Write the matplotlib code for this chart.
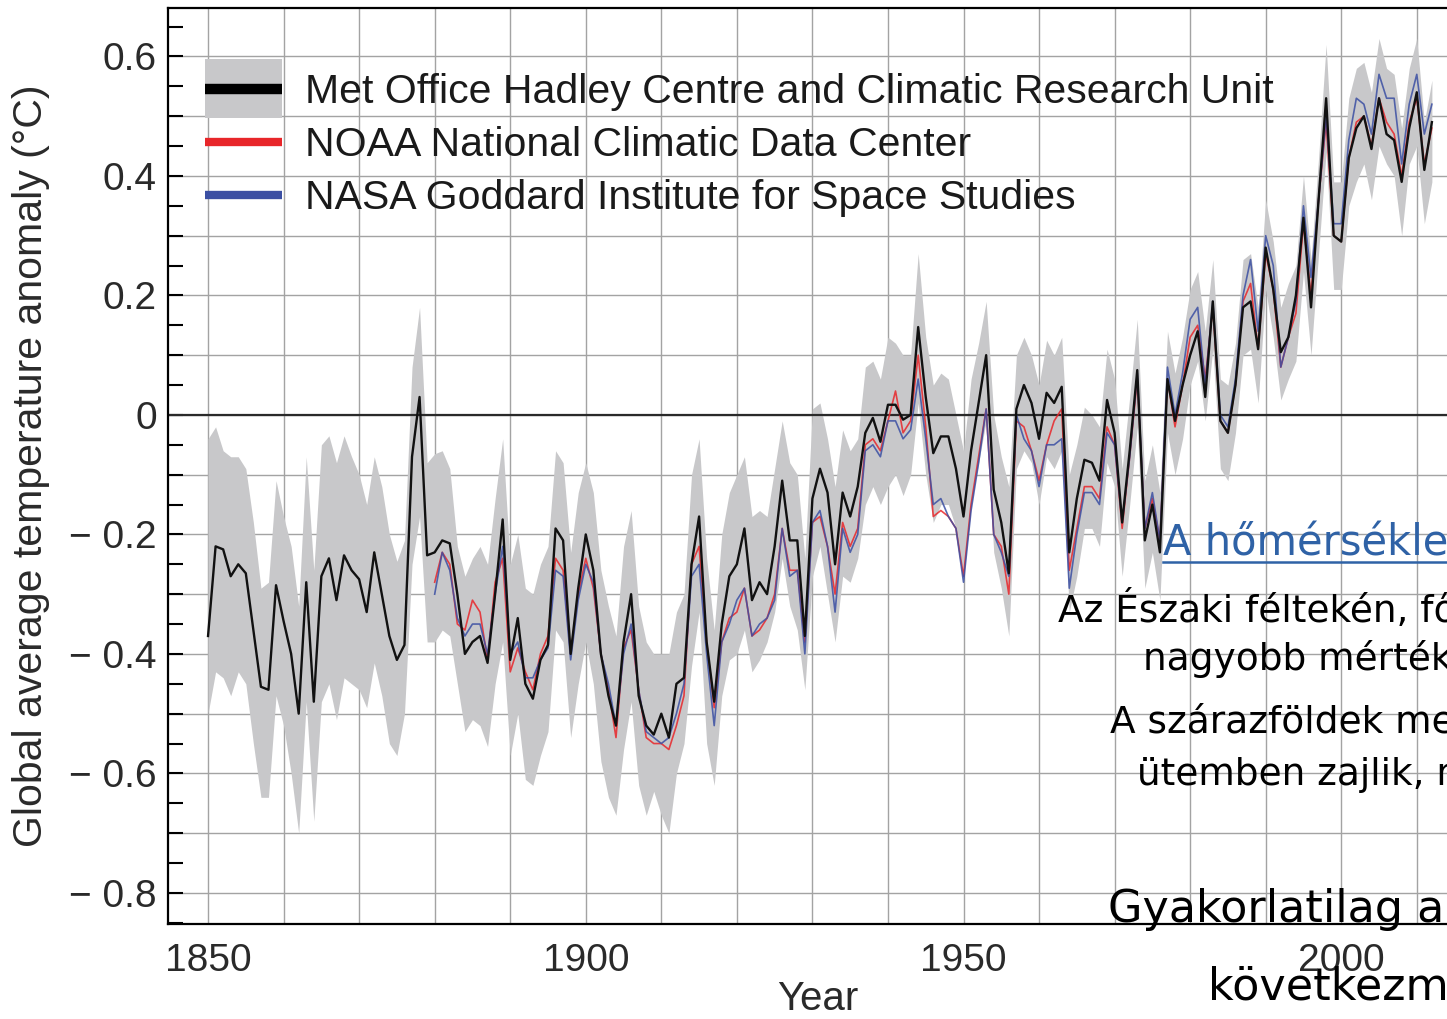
import numpy as np
import matplotlib
matplotlib.use('Agg')
import matplotlib.pyplot as plt
from matplotlib.ticker import MultipleLocator, FuncFormatter
from matplotlib.patches import Patch, Rectangle
from matplotlib.lines import Line2D
from matplotlib.legend_handler import HandlerTuple, HandlerPatch

plt.rcParams['font.family'] = ['Liberation Sans', 'DejaVu Sans']

years = np.arange(1850, 2013)
years_us = np.arange(1880, 2013)

# Met Office Hadley Centre / CRU annual anomaly
hadcrut = [
    -0.37, -0.22, -0.225, -0.27, -0.25, -0.265, -0.36, -0.455, -0.46, -0.285,
    -0.345, -0.40, -0.50, -0.28, -0.48, -0.27, -0.24, -0.31, -0.235, -0.26,
    -0.275, -0.33, -0.23, -0.30, -0.37, -0.41, -0.385, -0.07, 0.03, -0.235,
    -0.23, -0.21, -0.215, -0.30, -0.40, -0.38, -0.37, -0.415, -0.30, -0.175,
    -0.41, -0.34, -0.45, -0.475, -0.41, -0.385, -0.19, -0.21, -0.40, -0.29,
    -0.20, -0.26, -0.40, -0.47, -0.52, -0.38, -0.30, -0.47, -0.52, -0.535,
    -0.50, -0.54, -0.45, -0.44, -0.25, -0.17, -0.38, -0.48, -0.35, -0.27,
    -0.25, -0.19, -0.31, -0.28, -0.30, -0.22, -0.11, -0.21, -0.21, -0.37,
    -0.14, -0.09, -0.13, -0.25, -0.13, -0.17, -0.12, -0.03, -0.005, -0.045,
    0.017, 0.017, -0.008, 0.0, 0.147, 0.03, -0.064, -0.036, -0.036, -0.09,
    -0.17, -0.06, 0.02, 0.10, -0.125, -0.18, -0.265, 0.01, 0.05, 0.02,
    -0.04, 0.037, 0.02, 0.047, -0.23, -0.14, -0.075, -0.08, -0.11, 0.025,
    -0.03, -0.18, -0.06, 0.075, -0.21, -0.15, -0.23, 0.06, -0.01, 0.05,
    0.10, 0.14, 0.03, 0.19, -0.01, -0.03, 0.05, 0.18, 0.19, 0.11,
    0.28, 0.21, 0.105, 0.13, 0.20, 0.33, 0.18, 0.36, 0.53, 0.30,
    0.29, 0.43, 0.48, 0.50, 0.445, 0.53, 0.47, 0.46, 0.39, 0.48,
    0.54, 0.41, 0.49,
]

# HadCRU uncertainty range
band_hi = [
    -0.04, -0.02, -0.06, -0.07, -0.07, -0.09, -0.18, -0.29, -0.28, -0.11,
    -0.17, -0.22, -0.32, -0.07, -0.26, -0.05, -0.035, -0.08, -0.035, -0.07,
    -0.10, -0.15, -0.07, -0.12, -0.20, -0.245, -0.21, 0.08, 0.18, -0.08,
    -0.065, -0.06, -0.09, -0.22, -0.27, -0.24, -0.22, -0.25, -0.14, -0.04,
    -0.25, -0.20, -0.29, -0.30, -0.25, -0.22, -0.06, -0.08, -0.23, -0.13,
    -0.08, -0.13, -0.26, -0.32, -0.37, -0.22, -0.16, -0.32, -0.38, -0.40,
    -0.40, -0.40, -0.33, -0.30, -0.10, -0.04, -0.24, -0.36, -0.20, -0.13,
    -0.10, -0.07, -0.17, -0.16, -0.17, -0.09, -0.01, -0.08, -0.10, -0.24,
    0.01, 0.02, -0.04, -0.12, -0.025, -0.06, -0.04, 0.08, 0.09, 0.06,
    0.13, 0.12, 0.10, 0.10, 0.27, 0.13, 0.05, 0.07, 0.06, 0.00,
    -0.06, 0.06, 0.12, 0.19, 0.00, -0.07, -0.12, 0.10, 0.13, 0.10,
    0.05, 0.125, 0.10, 0.13, -0.10, -0.05, 0.013, 0.00, -0.02, 0.11,
    0.06, -0.09, 0.03, 0.16, -0.11, -0.05, -0.13, 0.14, 0.07, 0.13,
    0.21, 0.24, 0.14, 0.26, 0.06, 0.05, 0.12, 0.26, 0.27, 0.18,
    0.36, 0.29, 0.18, 0.22, 0.25, 0.40, 0.26, 0.43, 0.62, 0.39,
    0.39, 0.53, 0.58, 0.59, 0.54, 0.63, 0.58, 0.57, 0.48, 0.58,
    0.63, 0.49, 0.56,
]
band_lo = [
    -0.50, -0.43, -0.44, -0.47, -0.43, -0.45, -0.55, -0.64, -0.64, -0.47,
    -0.52, -0.60, -0.70, -0.48, -0.68, -0.48, -0.45, -0.51, -0.44, -0.45,
    -0.46, -0.49, -0.415, -0.47, -0.55, -0.57, -0.50, -0.25, -0.17, -0.38,
    -0.38, -0.36, -0.37, -0.45, -0.53, -0.51, -0.52, -0.555, -0.45, -0.38,
    -0.57, -0.50, -0.61, -0.62, -0.57, -0.53, -0.36, -0.38, -0.54, -0.45,
    -0.38, -0.45, -0.58, -0.64, -0.67, -0.56, -0.48, -0.62, -0.67, -0.63,
    -0.67, -0.70, -0.60, -0.55, -0.42, -0.33, -0.55, -0.62, -0.47, -0.41,
    -0.40, -0.36, -0.43, -0.41, -0.38, -0.33, -0.24, -0.32, -0.36, -0.46,
    -0.27, -0.22, -0.30, -0.38, -0.27, -0.28, -0.24, -0.15, -0.12, -0.15,
    -0.12, -0.10, -0.135, -0.10, 0.02, -0.10, -0.18, -0.15, -0.15, -0.19,
    -0.27, -0.15, -0.08, -0.01, -0.23, -0.29, -0.37, -0.09, -0.06, -0.08,
    -0.15, -0.07, -0.09, -0.06, -0.33, -0.27, -0.19, -0.19, -0.22, -0.08,
    -0.12, -0.27, -0.15, -0.02, -0.29, -0.23, -0.31, -0.03, -0.10, -0.04,
    0.05, 0.09, -0.01, 0.11, -0.09, -0.11, -0.03, 0.10, 0.11, 0.02,
    0.21, 0.13, 0.025, 0.06, 0.09, 0.24, 0.10, 0.27, 0.44, 0.21,
    0.21, 0.35, 0.39, 0.42, 0.36, 0.45, 0.42, 0.40, 0.30, 0.42,
    0.45, 0.32, 0.39,
]

# NOAA National Climatic Data Center
noaa = [
    -0.28, -0.23, -0.25, -0.35, -0.36, -0.31, -0.33, -0.41, -0.28, -0.24,
    -0.43, -0.39, -0.43, -0.46, -0.40, -0.37, -0.24, -0.26, -0.40, -0.30,
    -0.24, -0.29, -0.40, -0.46, -0.54, -0.39, -0.36, -0.46, -0.54, -0.55,
    -0.55, -0.56, -0.52, -0.47, -0.25, -0.22, -0.38, -0.49, -0.38, -0.34,
    -0.33, -0.29, -0.37, -0.36, -0.34, -0.30, -0.19, -0.26, -0.26, -0.38,
    -0.18, -0.17, -0.22, -0.30, -0.18, -0.22, -0.19, -0.05, -0.04, -0.06,
    -0.01, 0.04, -0.03, -0.01, 0.10, -0.02, -0.17, -0.16, -0.17, -0.19,
    -0.27, -0.15, -0.07, 0.01, -0.20, -0.22, -0.30, -0.01, -0.02, -0.06,
    -0.11, -0.05, -0.01, 0.01, -0.26, -0.19, -0.12, -0.12, -0.14, -0.02,
    -0.05, -0.19, -0.07, 0.06, -0.19, -0.14, -0.21, 0.06, -0.02, 0.05,
    0.13, 0.15, 0.06, 0.18, -0.01, -0.03, 0.05, 0.19, 0.22, 0.11,
    0.27, 0.21, 0.08, 0.13, 0.17, 0.32, 0.20, 0.36, 0.49, 0.30,
    0.29, 0.43, 0.49, 0.50, 0.45, 0.53, 0.49, 0.47, 0.40, 0.49,
    0.53, 0.42, 0.48,
]

# NASA Goddard Institute for Space Studies
nasa = [
    -0.30, -0.23, -0.26, -0.34, -0.37, -0.35, -0.35, -0.40, -0.30, -0.22,
    -0.40, -0.38, -0.44, -0.44, -0.41, -0.39, -0.26, -0.27, -0.41, -0.31,
    -0.25, -0.28, -0.40, -0.45, -0.52, -0.40, -0.35, -0.46, -0.53, -0.54,
    -0.55, -0.54, -0.50, -0.45, -0.27, -0.25, -0.40, -0.52, -0.38, -0.35,
    -0.31, -0.29, -0.37, -0.35, -0.34, -0.31, -0.19, -0.27, -0.26, -0.40,
    -0.18, -0.16, -0.22, -0.33, -0.19, -0.23, -0.20, -0.06, -0.05, -0.07,
    -0.01, -0.01, -0.04, -0.025, 0.06, -0.04, -0.15, -0.14, -0.17, -0.19,
    -0.28, -0.16, -0.08, 0.01, -0.20, -0.23, -0.27, 0.00, -0.04, -0.06,
    -0.12, -0.05, -0.05, -0.04, -0.29, -0.20, -0.13, -0.13, -0.15, -0.03,
    -0.05, -0.18, -0.07, 0.07, -0.19, -0.13, -0.21, 0.08, 0.00, 0.07,
    0.16, 0.18, 0.05, 0.19, 0.00, -0.02, 0.06, 0.20, 0.26, 0.14,
    0.30, 0.25, 0.08, 0.13, 0.19, 0.35, 0.23, 0.36, 0.50, 0.32,
    0.32, 0.46, 0.53, 0.52, 0.47, 0.57, 0.53, 0.53, 0.42, 0.52,
    0.57, 0.47, 0.52,
]

labels = ['Met Office Hadley Centre and Climatic Research Unit',
          'NOAA National Climatic Data Center',
          'NASA Goddard Institute for Space Studies']

GRAY = '#c8c8ca'
RED = '#e8262a'
BLUE = '#3b4fa3'

W, H = 1447, 1019
fig = plt.figure(figsize=(W / 100, H / 100), dpi=100)
ax = fig.add_axes([168 / W, 1 - 924 / H, 1 - 168 / W, (924 - 8) / H])
ax.set_xlim(1844.7, 2014.0)
ax.set_ylim(-0.852, 0.681)

ax.fill_between(years, band_lo, band_hi, color=GRAY, lw=0, zorder=1)
ax.axhline(0, color='#2a2a2a', lw=1.6, zorder=2)
ax.plot(years_us, noaa, color=RED, lw=1.2, alpha=0.85, zorder=3)
ax.plot(years_us, nasa, color=BLUE, lw=1.2, alpha=0.85, zorder=3.1)
ax.plot(years, hadcrut, color='#111111', lw=1.7, zorder=4)

ax.set_axisbelow(True)
ax.xaxis.set_major_locator(MultipleLocator(10))
ax.yaxis.set_major_locator(MultipleLocator(0.1))
ax.yaxis.set_minor_locator(MultipleLocator(0.05))
ax.grid(True, which='major', color='#a3a3a3', lw=1.0)


def xfmt(v, pos):
    y = int(round(v))
    return str(y) if y % 50 == 0 else ''


def yfmt(v, pos):
    k = int(round(v * 10))
    if k % 2:
        return ''
    if k == 0:
        return '0'
    s = f'{abs(k) / 10:.1f}'
    return s if k > 0 else '\u2212 ' + s


ax.xaxis.set_major_formatter(FuncFormatter(xfmt))
ax.yaxis.set_major_formatter(FuncFormatter(yfmt))
ax.tick_params(axis='x', which='both', length=0, pad=14, labelsize=28,
               labelcolor='#2a2a2a')
ax.tick_params(axis='y', which='both', direction='in', length=11, width=1.5,
               pad=8, labelsize=28, labelcolor='#2a2a2a')
for side in ['left', 'bottom', 'top']:
    ax.spines[side].set_linewidth(1.6)
ax.spines['right'].set_visible(False)

ax.set_xlabel('Year', fontsize=29, color='#2a2a2a')
ax.xaxis.set_label_coords(0.508, -0.061)
ax.set_ylabel('Global average temperature anomaly (\u00b0C)', fontsize=29.5,
              color='#2a2a2a')
ax.yaxis.set_label_coords(-0.092, 0.5)


def tall_patch(legend, orig_handle, xdescent, ydescent, width, height, fontsize):
    h = 1.45 * fontsize
    return Rectangle((-xdescent, -ydescent + height / 2 - h / 2), width, h)


h1 = (Patch(facecolor=GRAY, edgecolor='none'),
      Line2D([], [], color='black', lw=7.5, solid_capstyle='butt'))
h2 = Line2D([], [], color=RED, lw=6, solid_capstyle='butt')
h3 = Line2D([], [], color=BLUE, lw=6, solid_capstyle='butt')
leg = ax.legend([h1, h2, h3], labels, loc='upper left',
                bbox_to_anchor=(0.029, 0.929), frameon=False, fontsize=29.5,
                handlelength=1.88, handletextpad=0.57, labelspacing=0.37,
                borderaxespad=0, borderpad=0,
                handler_map={tuple: HandlerTuple(ndivide=1, pad=0),
                             Patch: HandlerPatch(patch_func=tall_patch)})
for t in leg.get_texts():
    t.set_color('#1a1a1a')

# overlaid slide text (cut off at the right edge)
BLUE_LINK = '#2f62a6'
fig.text(1163 / W, 1 - 556 / H, 'A hőmérsékletváltozás', fontsize=30,
         family='DejaVu Sans', color=BLUE_LINK, va='baseline')
fig.add_artist(Line2D([1163 / W, 1.0], [1 - 562 / H] * 2,
                      transform=fig.transFigure, color=BLUE_LINK, lw=1.8))
body = [
    (1058, 622, 'Az Északi féltekén, főként', 27),
    (1143, 670, 'nagyobb mértékben', 27),
    (1110, 733, 'A szárazföldek melegedése', 27),
    (1137, 785, 'ütemben zajlik, mint', 27),
    (1108, 922, 'Gyakorlatilag a globális', 32),
    (1208, 1000, 'következménye', 32),
]
for x, y, s, fs in body:
    fig.text(x / W, 1 - y / H, s, fontsize=fs, family='DejaVu Sans',
             color='black', va='baseline')

fig.savefig('out.png', dpi=100)
